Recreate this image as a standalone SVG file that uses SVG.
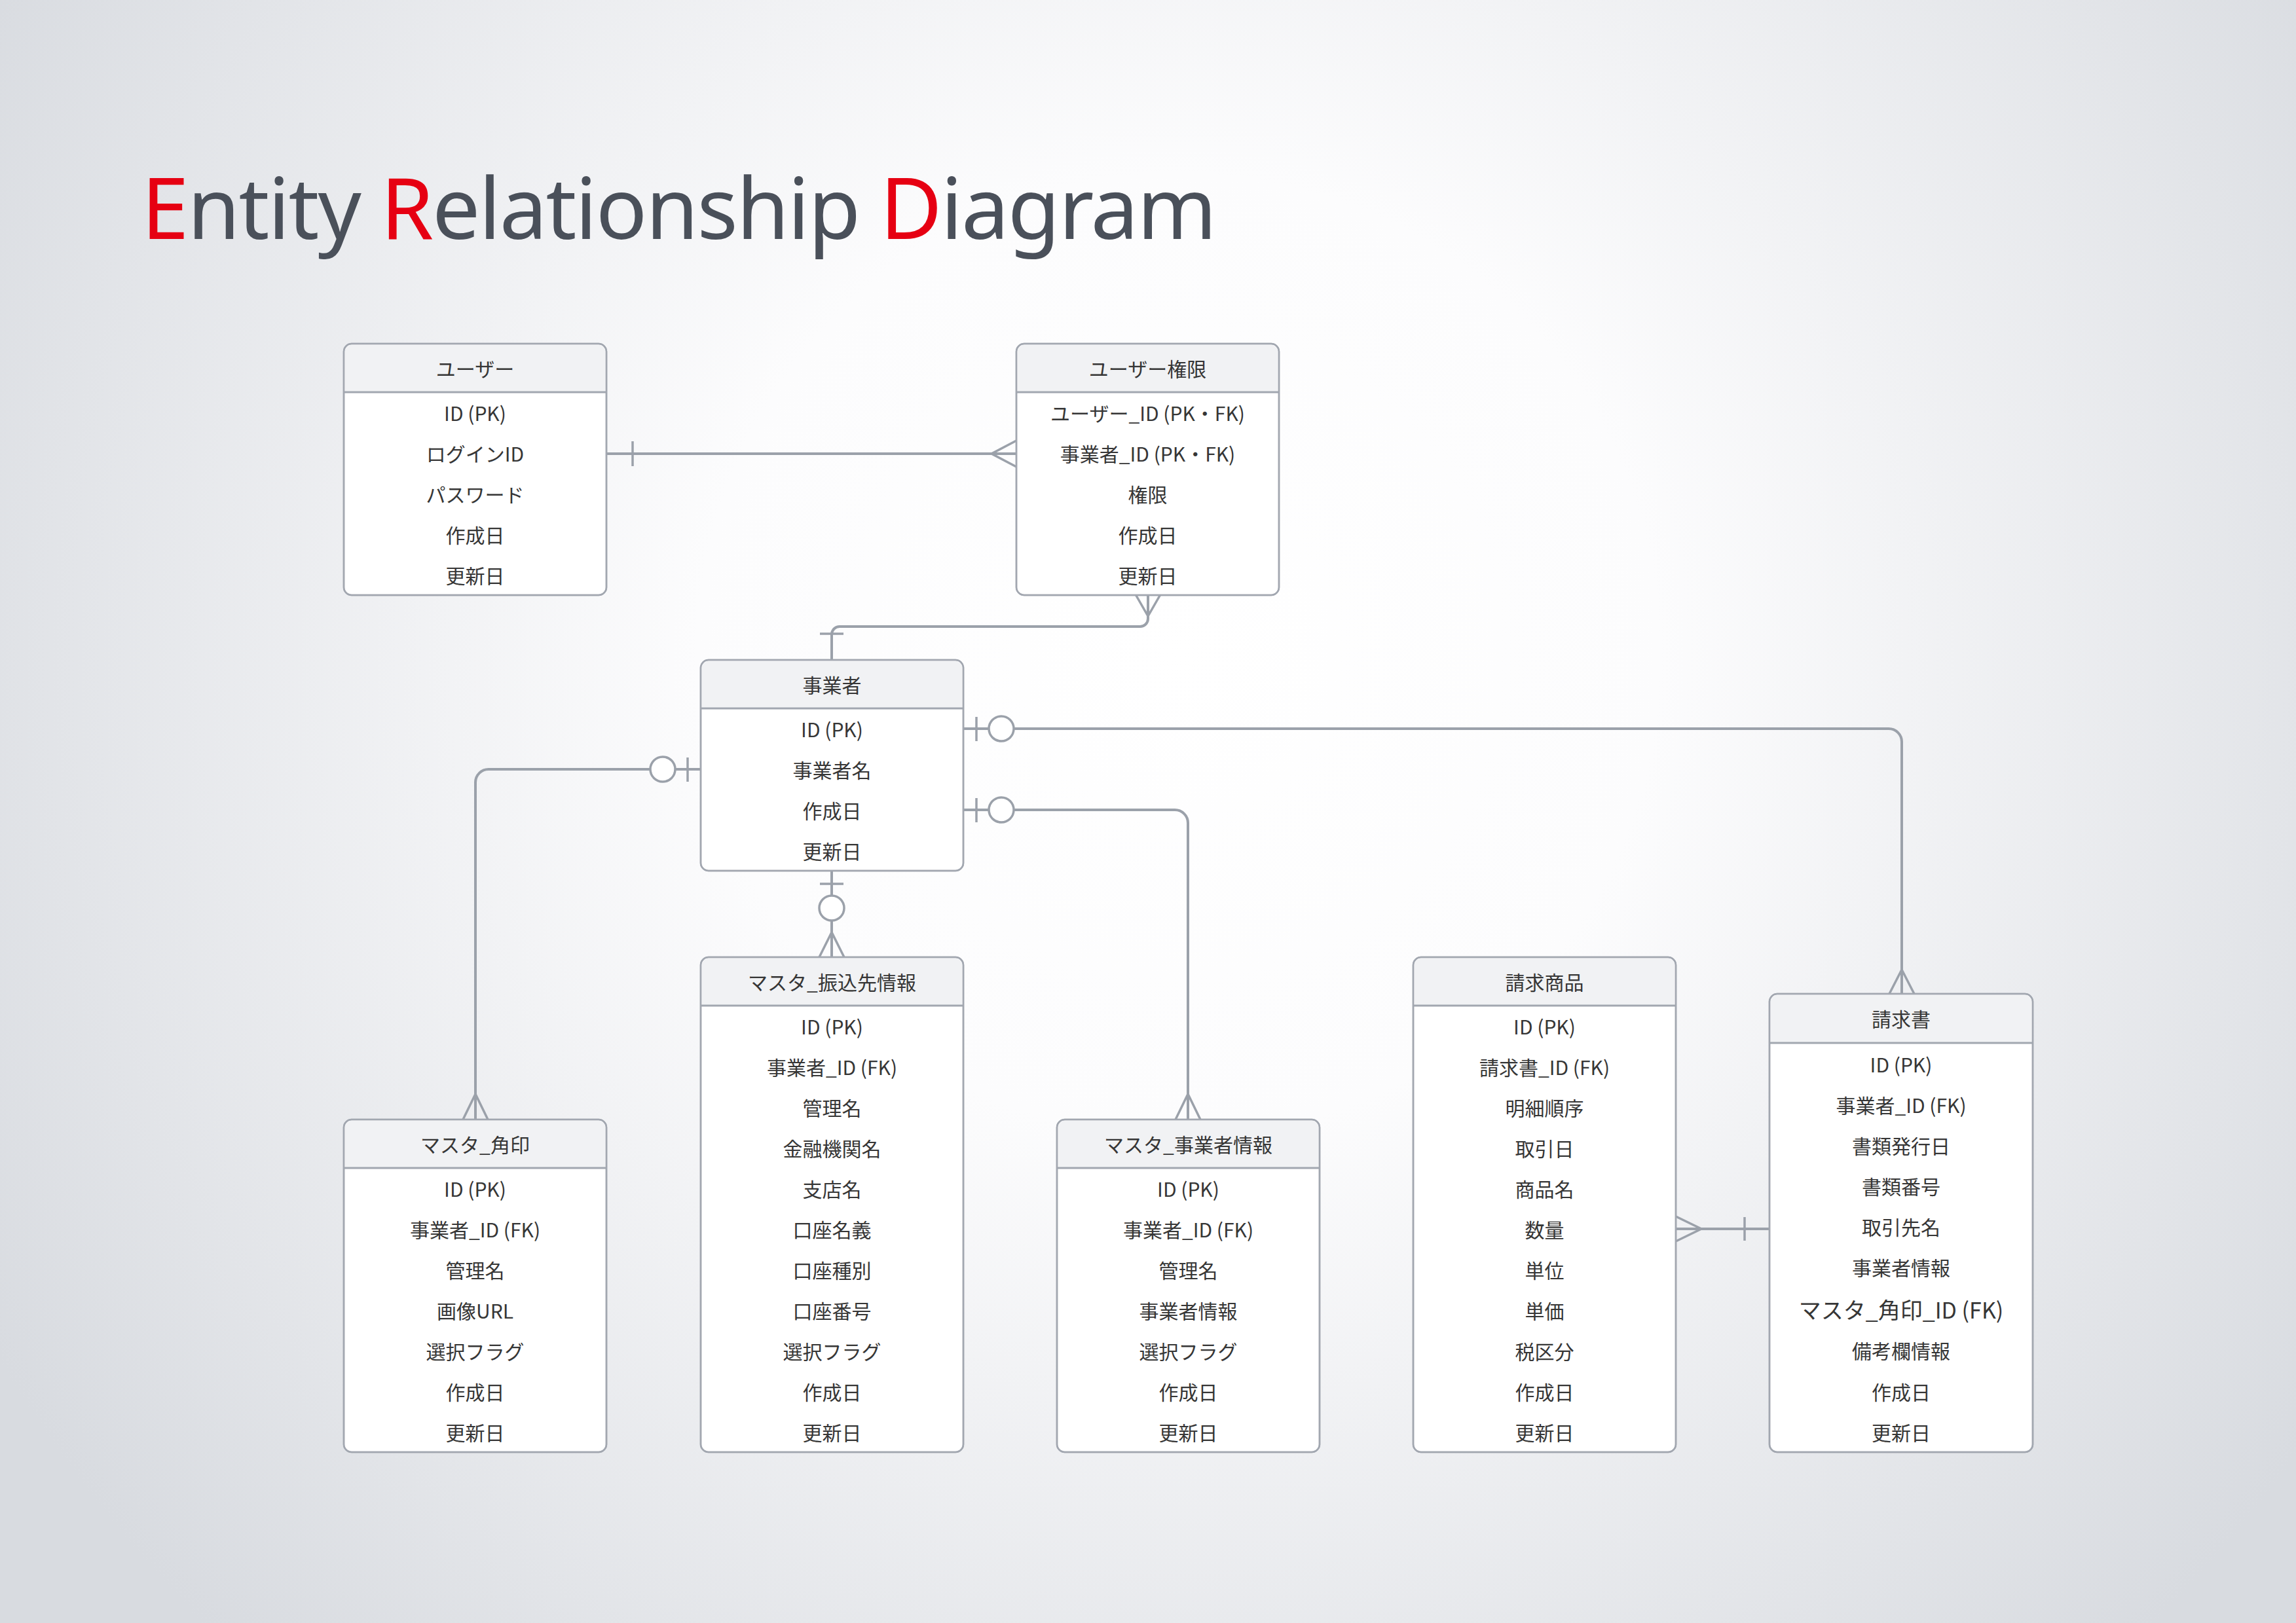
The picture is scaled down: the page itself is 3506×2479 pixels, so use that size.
<svg xmlns="http://www.w3.org/2000/svg" width="3506" height="2479" viewBox="0 0 3506 2479">
<defs>
<radialGradient id="bg" gradientUnits="userSpaceOnUse" cx="1800" cy="1000" r="2100">
<stop offset="0" stop-color="#ffffff"/>
<stop offset="0.35" stop-color="#fcfcfd"/>
<stop offset="1" stop-color="#d8dbe0"/>
</radialGradient>
<style>
.box{fill:#ffffff;stroke:#a2a7b0;stroke-width:2.5}
.hdr{fill:#f1f2f4;stroke:none}
.div{stroke:#a2a7b0;stroke-width:3}
.out{fill:none;stroke:#a2a7b0;stroke-width:2.5}
.t{font-family:"Noto Sans CJK JP","Noto Sans",sans-serif;font-size:30px;fill:#363636;text-anchor:middle;dominant-baseline:central}
.ln{fill:none;stroke:#9ba1aa;stroke-width:4}
.mk{fill:none;stroke:#9ba1aa;stroke-width:3.5}
.ci{fill:#ffffff;stroke:#9ba1aa;stroke-width:3.5}
</style>
</defs>
<rect x="0" y="0" width="3506" height="2479" fill="url(#bg)"/>
<text x="216" y="365" font-family="'Noto Sans','Open Sans',sans-serif" font-size="130" fill="#4a505a" textLength="1642" lengthAdjust="spacing"><tspan fill="#e60012">E</tspan>ntity <tspan fill="#e60012">R</tspan>elationship <tspan fill="#e60012">D</tspan>iagram</text>

<g id="connectors">
<!-- ユーザー - ユーザー権限 -->
<path class="ln" d="M926 693 H1552"/>
<path class="mk" d="M966 674 V712"/>
<path class="mk" d="M1552 673 L1514 693 L1552 713"/>
<!-- ユーザー権限 - 事業者 -->
<path class="ln" d="M1753 908 V945 A12 12 0 0 1 1741 957 H1282 A12 12 0 0 0 1270 969 V1008"/>
<path class="mk" d="M1734 908 L1753 941 L1772 908"/>
<path class="mk" d="M1252 968 H1288"/>
<!-- 事業者 - 請求書 -->
<path class="ln" d="M1471 1113 H2884 A20 20 0 0 1 2904 1133 V1518"/>
<path class="mk" d="M1491 1095 V1132"/>
<circle class="ci" cx="1529" cy="1113" r="19"/>
<path class="mk" d="M2885 1518 L2904 1481 L2923 1518"/>
<!-- 事業者 - マスタ_事業者情報 -->
<path class="ln" d="M1471 1237 H1794 A20 20 0 0 1 1814 1257 V1710"/>
<path class="mk" d="M1491 1219 V1256"/>
<circle class="ci" cx="1529" cy="1237" r="19"/>
<path class="mk" d="M1795 1710 L1814 1671 L1833 1710"/>
<!-- 事業者 - マスタ_角印 -->
<path class="ln" d="M1070 1175 H746 A20 20 0 0 0 726 1195 V1710"/>
<path class="mk" d="M1050 1157 V1194"/>
<circle class="ci" cx="1012" cy="1175" r="19"/>
<path class="mk" d="M707 1710 L726 1671 L745 1710"/>
<!-- 事業者 - マスタ_振込先情報 -->
<path class="ln" d="M1270 1330 V1462"/>
<path class="mk" d="M1252 1350 H1288"/>
<circle class="ci" cx="1270" cy="1387" r="19"/>
<path class="mk" d="M1251 1462 L1270 1424 L1289 1462"/>
<!-- 請求商品 - 請求書 -->
<path class="ln" d="M2559 1877 H2702"/>
<path class="mk" d="M2559 1858 L2598 1877 L2559 1896"/>
<path class="mk" d="M2664 1859 V1895"/>
</g>

<g id="user">
<rect class="box" x="525" y="525" width="401" height="384" rx="12"/>
<path class="hdr" d="M526.5 599 V537 A11 11 0 0 1 537 526.5 H914 A11 11 0 0 1 924.5 537 V599 Z"/>
<line class="div" x1="525" y1="599" x2="926" y2="599"/>
<rect class="out" x="525" y="525" width="401" height="384" rx="12"/>
<text class="t" x="725.5" y="562">ユーザー</text>
<text class="t" x="725.5" y="630">ID (PK)</text>
<text class="t" x="725.5" y="692">ログインID</text>
<text class="t" x="725.5" y="754">パスワード</text>
<text class="t" x="725.5" y="816">作成日</text>
<text class="t" x="725.5" y="878">更新日</text>
</g>

<g id="user-auth">
<rect class="box" x="1552" y="525" width="401" height="384" rx="12"/>
<path class="hdr" d="M1553.5 599 V537 A11 11 0 0 1 1564 526.5 H1941 A11 11 0 0 1 1951.5 537 V599 Z"/>
<line class="div" x1="1552" y1="599" x2="1953" y2="599"/>
<rect class="out" x="1552" y="525" width="401" height="384" rx="12"/>
<text class="t" x="1752.5" y="562">ユーザー権限</text>
<text class="t" x="1752.5" y="630">ユーザー_ID (PK・FK)</text>
<text class="t" x="1752.5" y="692">事業者_ID (PK・FK)</text>
<text class="t" x="1752.5" y="754">権限</text>
<text class="t" x="1752.5" y="816">作成日</text>
<text class="t" x="1752.5" y="878">更新日</text>
</g>

<g id="business">
<rect class="box" x="1070" y="1008" width="401" height="322" rx="12"/>
<path class="hdr" d="M1071.5 1082 V1020 A11 11 0 0 1 1082 1009.5 H1459 A11 11 0 0 1 1469.5 1020 V1082 Z"/>
<line class="div" x1="1070" y1="1082" x2="1471" y2="1082"/>
<rect class="out" x="1070" y="1008" width="401" height="322" rx="12"/>
<text class="t" x="1270.5" y="1045">事業者</text>
<text class="t" x="1270.5" y="1113">ID (PK)</text>
<text class="t" x="1270.5" y="1175">事業者名</text>
<text class="t" x="1270.5" y="1237">作成日</text>
<text class="t" x="1270.5" y="1299">更新日</text>
</g>

<g id="master-bank">
<rect class="box" x="1070" y="1462" width="401" height="756" rx="12"/>
<path class="hdr" d="M1071.5 1536 V1474 A11 11 0 0 1 1082 1463.5 H1459 A11 11 0 0 1 1469.5 1474 V1536 Z"/>
<line class="div" x1="1070" y1="1536" x2="1471" y2="1536"/>
<rect class="out" x="1070" y="1462" width="401" height="756" rx="12"/>
<text class="t" x="1270.5" y="1499">マスタ_振込先情報</text>
<text class="t" x="1270.5" y="1567">ID (PK)</text>
<text class="t" x="1270.5" y="1629">事業者_ID (FK)</text>
<text class="t" x="1270.5" y="1691">管理名</text>
<text class="t" x="1270.5" y="1753">金融機関名</text>
<text class="t" x="1270.5" y="1815">支店名</text>
<text class="t" x="1270.5" y="1877">口座名義</text>
<text class="t" x="1270.5" y="1939">口座種別</text>
<text class="t" x="1270.5" y="2001">口座番号</text>
<text class="t" x="1270.5" y="2063">選択フラグ</text>
<text class="t" x="1270.5" y="2125">作成日</text>
<text class="t" x="1270.5" y="2187">更新日</text>
</g>

<g id="master-seal">
<rect class="box" x="525" y="1710" width="401" height="508" rx="12"/>
<path class="hdr" d="M526.5 1784 V1722 A11 11 0 0 1 537 1711.5 H914 A11 11 0 0 1 924.5 1722 V1784 Z"/>
<line class="div" x1="525" y1="1784" x2="926" y2="1784"/>
<rect class="out" x="525" y="1710" width="401" height="508" rx="12"/>
<text class="t" x="725.5" y="1747">マスタ_角印</text>
<text class="t" x="725.5" y="1815">ID (PK)</text>
<text class="t" x="725.5" y="1877">事業者_ID (FK)</text>
<text class="t" x="725.5" y="1939">管理名</text>
<text class="t" x="725.5" y="2001">画像URL</text>
<text class="t" x="725.5" y="2063">選択フラグ</text>
<text class="t" x="725.5" y="2125">作成日</text>
<text class="t" x="725.5" y="2187">更新日</text>
</g>

<g id="master-business-info">
<rect class="box" x="1614" y="1710" width="401" height="508" rx="12"/>
<path class="hdr" d="M1615.5 1784 V1722 A11 11 0 0 1 1626 1711.5 H2003 A11 11 0 0 1 2013.5 1722 V1784 Z"/>
<line class="div" x1="1614" y1="1784" x2="2015" y2="1784"/>
<rect class="out" x="1614" y="1710" width="401" height="508" rx="12"/>
<text class="t" x="1814.5" y="1747">マスタ_事業者情報</text>
<text class="t" x="1814.5" y="1815">ID (PK)</text>
<text class="t" x="1814.5" y="1877">事業者_ID (FK)</text>
<text class="t" x="1814.5" y="1939">管理名</text>
<text class="t" x="1814.5" y="2001">事業者情報</text>
<text class="t" x="1814.5" y="2063">選択フラグ</text>
<text class="t" x="1814.5" y="2125">作成日</text>
<text class="t" x="1814.5" y="2187">更新日</text>
</g>

<g id="invoice-items">
<rect class="box" x="2158" y="1462" width="401" height="756" rx="12"/>
<path class="hdr" d="M2159.5 1536 V1474 A11 11 0 0 1 2170 1463.5 H2547 A11 11 0 0 1 2557.5 1474 V1536 Z"/>
<line class="div" x1="2158" y1="1536" x2="2559" y2="1536"/>
<rect class="out" x="2158" y="1462" width="401" height="756" rx="12"/>
<text class="t" x="2358.5" y="1499">請求商品</text>
<text class="t" x="2358.5" y="1567">ID (PK)</text>
<text class="t" x="2358.5" y="1629">請求書_ID (FK)</text>
<text class="t" x="2358.5" y="1691">明細順序</text>
<text class="t" x="2358.5" y="1753">取引日</text>
<text class="t" x="2358.5" y="1815">商品名</text>
<text class="t" x="2358.5" y="1877">数量</text>
<text class="t" x="2358.5" y="1939">単位</text>
<text class="t" x="2358.5" y="2001">単価</text>
<text class="t" x="2358.5" y="2063">税区分</text>
<text class="t" x="2358.5" y="2125">作成日</text>
<text class="t" x="2358.5" y="2187">更新日</text>
</g>

<g id="invoice">
<rect class="box" x="2702" y="1518" width="402" height="700" rx="12"/>
<path class="hdr" d="M2703.5 1593 V1530 A11 11 0 0 1 2714 1519.5 H3092 A11 11 0 0 1 3102.5 1530 V1593 Z"/>
<line class="div" x1="2702" y1="1593" x2="3104" y2="1593"/>
<rect class="out" x="2702" y="1518" width="402" height="700" rx="12"/>
<text class="t" x="2903" y="1555">請求書</text>
<text class="t" x="2903" y="1625">ID (PK)</text>
<text class="t" x="2903" y="1687">事業者_ID (FK)</text>
<text class="t" x="2903" y="1749">書類発行日</text>
<text class="t" x="2903" y="1811">書類番号</text>
<text class="t" x="2903" y="1873">取引先名</text>
<text class="t" x="2903" y="1935">事業者情報</text>
<text class="t" x="2903" y="1999" style="font-size:34px">マスタ_角印_ID (FK)</text>
<text class="t" x="2903" y="2062">備考欄情報</text>
<text class="t" x="2903" y="2125">作成日</text>
<text class="t" x="2903" y="2187">更新日</text>
</g>
</svg>
